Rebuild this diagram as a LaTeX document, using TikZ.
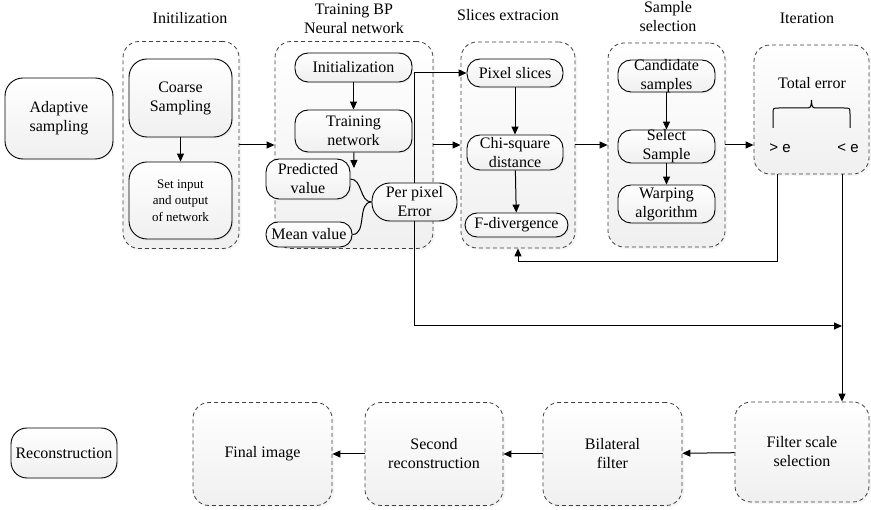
\documentclass[tikz,border=0pt]{standalone}
\usepackage{fontspec}
\setmainfont{Liberation Serif}
\newfontfamily\arialfont{Liberation Sans}
\usetikzlibrary{arrows.meta}
\usetikzlibrary{positioning}
\usetikzlibrary{shadows}

\begin{document}
\begin{tikzpicture}
    [x=1pt,y=-1pt,line width=1pt,
    font=\fontsize{16}{19}\selectfont,
    >={Triangle[length=8pt,width=7pt]},
    stage/.style={rectangle,draw=black!75,line width=0.8pt,dash pattern=on 4pt off 3pt,
      rounded corners=16pt,top color=white,bottom color=black!6,
      drop shadow={opacity=0.08,shadow xshift=2pt,shadow yshift=-2pt}},
    block/.style={rectangle,draw,line width=0.9pt,rounded corners=18pt,align=center,
      top color=white,bottom color=black!6,inner sep=2pt,
      drop shadow={opacity=0.08,shadow xshift=1.5pt,shadow yshift=-1.5pt}},
    pill/.style={rectangle,draw,line width=0.9pt,rounded corners=13pt,align=center,
      top color=white,bottom color=black!6,inner xsep=2pt,inner ysep=0pt,
      drop shadow={opacity=0.08,shadow xshift=1.5pt,shadow yshift=-1.5pt}},
    title/.style={align=center}]

    \useasboundingbox (0,0) rectangle (871,510);

    % stage titles
    \node[title] (t init)   at (190,18)  {Initilization};
    \node[title] (t train)  at (354,19)  {Training BP\\Neural network};
    \node[title] (t slices) at (508,15)  {Slices extracion};
    \node[title] (t sample) at (668,17)  {Sample\\selection};
    \node[title] (t iter)   at (807,18)  {Iteration};

    % dashed stages
    \node[stage,minimum width=116pt,minimum height=207pt] (init)   at (181,145)   {};
    \node[stage,minimum width=158pt,minimum height=207pt] (train)  at (354,145)   {};
    \node[stage,minimum width=114pt,minimum height=206pt] (slices) at (518,145)   {};
    \node[stage,minimum width=117pt,minimum height=204pt] (sample) at (666.5,145) {};
    \node[stage,minimum width=115pt,minimum height=129pt] (iter)   at (811.5,109.5) {};

    \node[stage,minimum width=139pt,minimum height=103pt] (final)  at (262.5,454) {Final image};
    \node[stage,minimum width=138pt,minimum height=103pt,align=center] (second) at (434,454) {Second\\reconstruction};
    \node[stage,minimum width=139pt,minimum height=103pt,align=center] (bilat)  at (612.5,454) {Bilateral\\filter};
    \node[stage,minimum width=134pt,minimum height=100pt,align=center] (filt)   at (802,452) {Filter scale\\selection};

    % boxes
    \node[block,minimum width=108pt,minimum height=81pt] (adaptive) at (59,118.5) {Adaptive\\sampling};
    \node[block,rounded corners=16pt,minimum width=106pt,minimum height=50pt] (recon) at (64,453) {Reconstruction};

    \node[block,minimum width=103pt,minimum height=78pt] (coarse) at (180.5,98) {Coarse\\Sampling};
    \node[block,minimum width=103pt,minimum height=77pt,font=\fontsize{13}{16.5}\selectfont] (setio) at (180.5,200.5) {Set input\\and output\\of network};

    \node[pill,minimum width=117pt,minimum height=29pt] (initn)     at (353.5,67.5) {Initialization};
    \node[pill,minimum width=117pt,minimum height=42pt] (trainnet)  at (353.5,131)  {Training\\network};
    \node[pill,minimum width=84pt,minimum height=40pt]  (predicted) at (308,179)    {Predicted\\value};
    \node[pill,rounded corners=12pt,minimum width=86pt,minimum height=25pt] (mean) at (309,234.5) {Mean value};
    \node[pill,rounded corners=18pt,minimum width=85pt,minimum height=38pt] (perpix) at (414.5,202) {Per pixel\\Error};

    \node[pill,minimum width=96pt,minimum height=28pt]  (pixsl) at (515,73)    {Pixel slices};
    \node[pill,minimum width=96pt,minimum height=35pt]  (chi)   at (515,152.5) {Chi-square\\distance};
    \node[pill,rounded corners=12pt,minimum width=103pt,minimum height=24pt] (fdiv) at (516.5,225) {F-divergence};

    \node[pill,inner ysep=-1.5pt,minimum width=97pt,minimum height=32pt] (cand)   at (666.5,76)    {Candidate\\samples};
    \node[pill,inner ysep=-1pt,minimum width=97pt,minimum height=33pt]   (select) at (666.5,146.5) {Select\\Sample};
    \node[pill,minimum width=97pt,minimum height=38pt]                   (warp)   at (666.5,204)   {Warping\\algorithm};

    % iteration contents
    \node (total) at (812,83) {Total error};
    \node[font=\arialfont\fontsize{15}{18}\selectfont] (gt) at (780,148) {> e};
    \node[font=\arialfont\fontsize{15}{18}\selectfont] (lt) at (848,148) {< e};
    \draw (773,128) -- (773,114) .. controls (773,108) .. (779,108) -- (805,108)
      .. controls (811,108) .. (811.5,100) .. controls (812,108) .. (818,108)
      -- (844,108) .. controls (850,108) .. (850,114) -- (850,128);

    % free ends
    \coordinate (trainout) at (354,168);
    \coordinate (gtout)    at (777,174);
    \coordinate (ltout)    at (842,174);
    \coordinate (feedback) at (777,262);
    \coordinate (merge)    at (842,326);

    % connectors
    \draw[->] (coarse) -- (setio);
    \draw[->] (init.east) -- (train.west);
    \draw[->] (initn) -- (trainnet);
    \draw[->] (trainnet) -- (trainout);
    \draw (predicted.east) to[out=0,in=180] (perpix.west);
    \draw (mean.east) to[out=0,in=180] (perpix.west);
    \draw[->] (perpix.north) |- (pixsl.west);
    \draw[->] (perpix.south) |- (merge);
    \draw[->] (train.east) -- (train.east -| slices.west);
    \draw[->] (pixsl) -- (chi);
    \draw[->] (chi) -- (fdiv);
    \draw[->] (slices.east) -- (slices.east -| sample.west);
    \draw[->] (cand) -- (select);
    \draw[->] (select) -- (warp);
    \draw[->] (sample.east) -- (sample.east -| iter.west);
    \draw[->] (gtout) -- (feedback) -| (slices.south);
    \draw[->] (ltout) -- (ltout |- filt.north);
    \draw[->] (filt) -- (bilat);
    \draw[->] (bilat) -- (second);
    \draw[->] (second) -- (final);

\end{tikzpicture}
\end{document}
